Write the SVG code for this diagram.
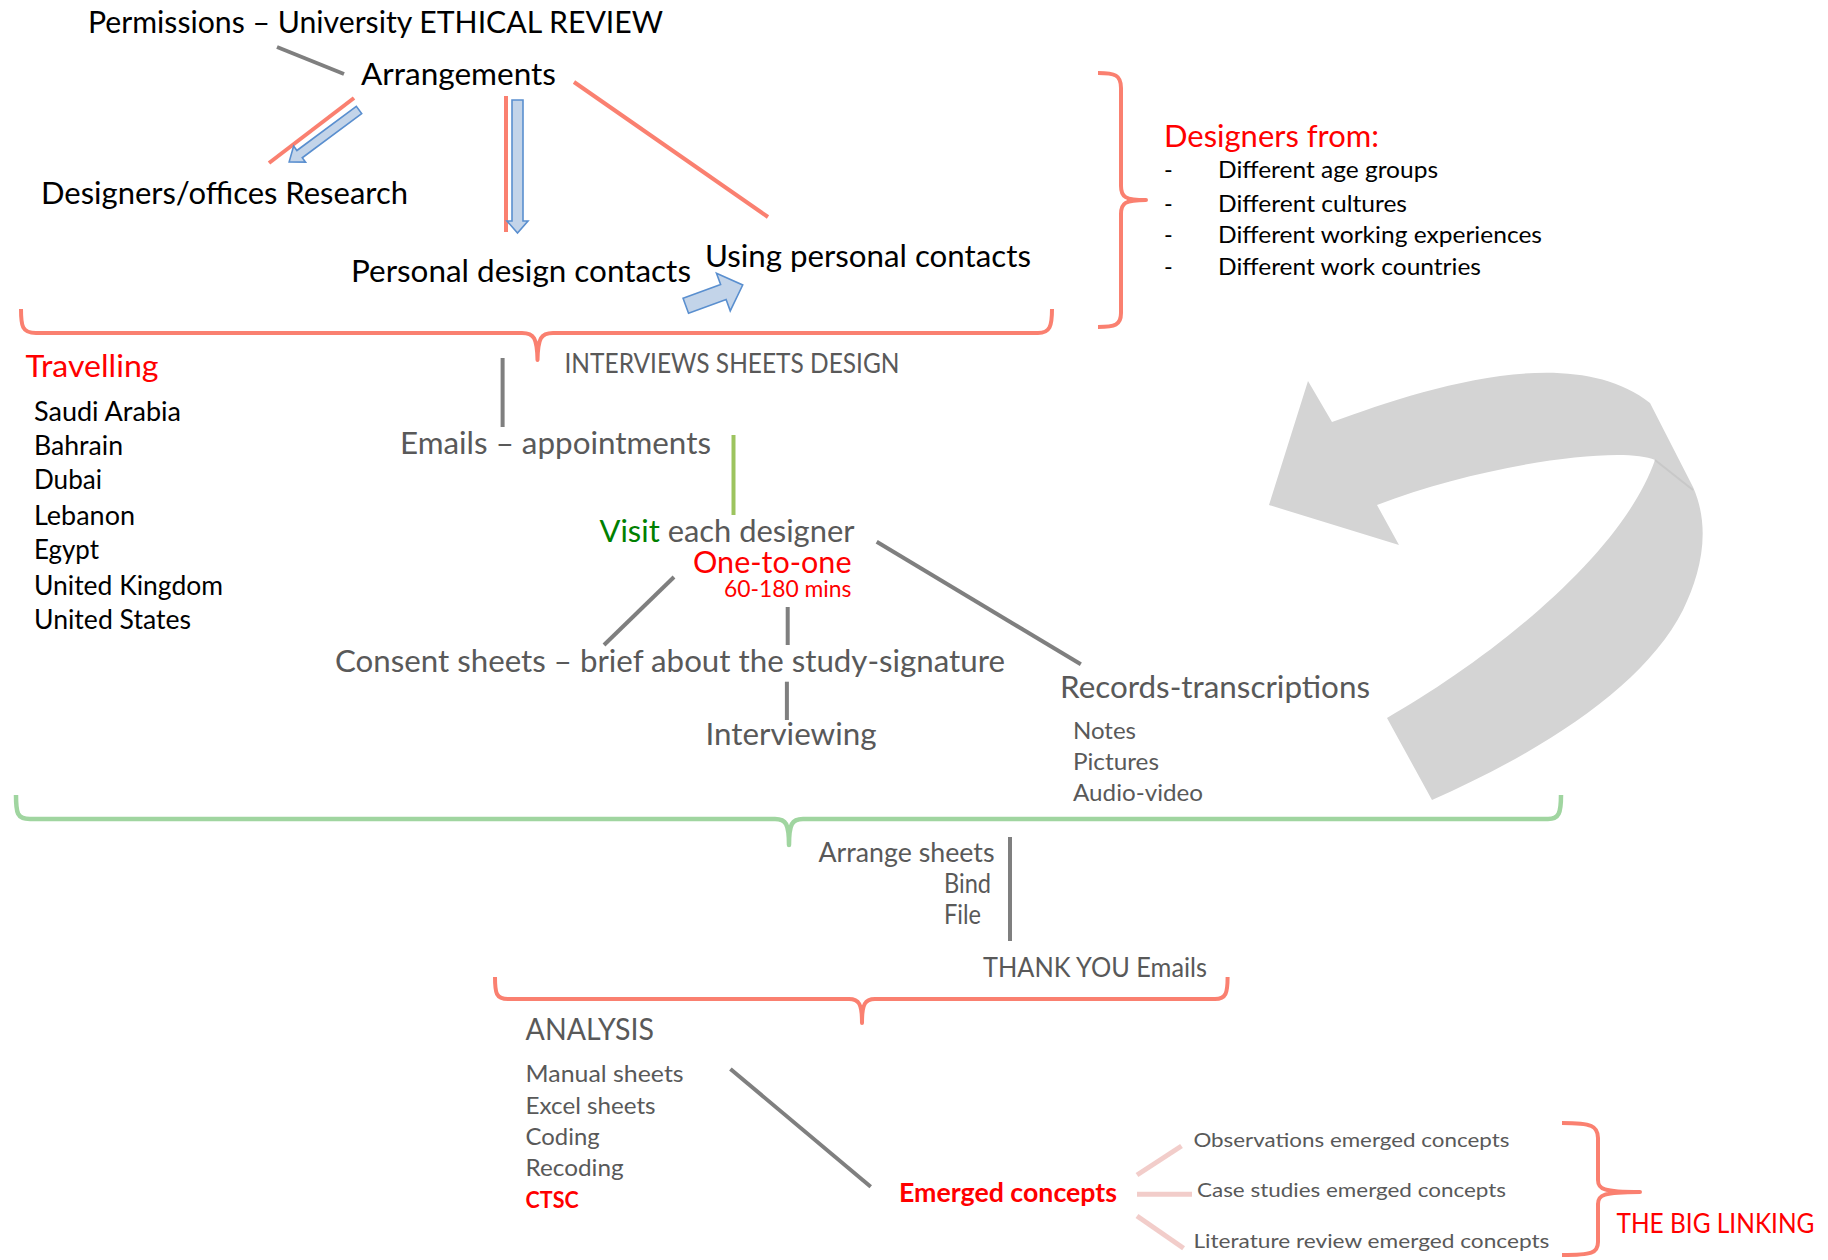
<svg xmlns="http://www.w3.org/2000/svg" width="1828" height="1260" viewBox="0 0 1828 1260">
<style>
text{font-family:Lato,"Liberation Sans",sans-serif}
.k{fill:#000}.g{fill:#595959}.r{fill:#ff0000}.v{fill:#008000}
.f30{font-size:30px}.f26{font-size:26px}.f23{font-size:23.5px}.f20{font-size:20px}.f22{font-size:22.5px}
.b{font-weight:bold}
.gl{stroke:#7f7f7f;stroke-width:4;fill:none}
.sl{stroke:#fa8070;stroke-width:4;fill:none}
.br{fill:none;stroke:#fa8070;stroke-width:4;stroke-linejoin:round}
.gb{fill:none;stroke:#a0d5a0;stroke-width:4.5;stroke-linejoin:round}
.grn{stroke:#9dc45f;stroke-width:4;fill:none}
.pk{stroke:#f2cdca;stroke-width:5;fill:none}
.ar{fill:#c3d4e9;stroke:#5a8fcf;stroke-width:1.6;stroke-linejoin:miter}
</style>
<rect width="1828" height="1260" fill="#fff"/>

<g id="loop-arrow">
<path d="M1269,505 L1308,381 L1332,422 C1420,390 1570,340 1650,403 L1693,487 C1712,530 1700,575 1683,610 C1645,685 1545,750 1432,800 L1387,718 C1480,665 1620,560 1655,460 C1620,445 1480,465 1377,505 L1399,545 Z" fill="#d4d4d4"/>
<path d="M1655,460 L1693,490" stroke="#c8c8c8" stroke-width="2" fill="none"/>
</g>

<g id="connectors">
<line class="gl" x1="277" y1="47" x2="344" y2="74"/>
<line class="sl" x1="354" y1="98" x2="269" y2="163"/>
<line class="sl" x1="506" y1="96" x2="506" y2="232"/>
<line class="sl" x1="574" y1="82" x2="768" y2="217"/>
<polygon class="ar" points="0,-4.5 74,-4.5 74,-10 87,0 74,10 74,4.5 0,4.5" transform="translate(359,110) rotate(143.4)"/>
<polygon class="ar" points="512,100 523,100 523,221 528,221 517.5,233 507,221 512,221"/>
<polygon class="ar" points="0,-8 40,-8 40,-20 60.6,0 40,20 40,8 0,8" transform="translate(685.8,305.8) rotate(-20.1)"/>
<path class="br" d="M21,309 C21,326 22,333 36,333 L522,333 C534,333 537,338 537.5,360 C538,338 541,333 553,333 L1038,333 C1050,333 1052,326 1052,309"/>
<path class="br" d="M1098,73 C1115,73 1121,75 1121,88 L1121,186 C1121,197 1125,200 1146,200 C1125,200 1121,203 1121,214 L1121,313 C1121,325 1115,327 1098,327"/>
<line class="gl" x1="502.6" y1="358" x2="502.6" y2="427"/>
<line class="grn" x1="733.5" y1="435" x2="733.5" y2="515"/>
<line class="gl" x1="674" y1="577" x2="604" y2="645"/>
<line class="gl" x1="787.7" y1="607" x2="787.7" y2="645"/>
<line class="gl" x1="876.7" y1="541.7" x2="1080.8" y2="664.3"/>
<line class="gl" x1="786.9" y1="681.7" x2="786.9" y2="720"/>
<path class="gb" d="M16,795 C16,813 17,819 30,819 L775,819 C786,819 789,824 789,845 C789,824 792,819 803,819 L1548,819 C1559,819 1561,813 1561,795"/>
<line class="gl" x1="1010" y1="837" x2="1010" y2="941"/>
<path class="br" d="M495,977 C495,993 496,999 508,999 L849,999 C859,999 862,1004 862,1023 C862,1004 865,999 875,999 L1215,999 C1226,999 1227.6,993 1227.6,977"/>
<line class="gl" x1="730.4" y1="1069" x2="870.7" y2="1186.7"/>
<line class="pk" x1="1137" y1="1175" x2="1181.5" y2="1146"/>
<line class="pk" x1="1137" y1="1194.3" x2="1192" y2="1194.3"/>
<line class="pk" x1="1137" y1="1216" x2="1183.6" y2="1248.3"/>
<path class="br" d="M1562,1123 C1592,1123 1598,1126 1598,1138 L1598,1180 C1598,1189 1603,1192 1640,1192 C1603,1192 1598,1195 1598,1204 L1598,1242 C1598,1253 1592,1255 1562,1255"/>
</g>

<g id="permissions"><text class="k f30" x="88" y="33" textLength="575" lengthAdjust="spacingAndGlyphs">Permissions – University ETHICAL REVIEW</text></g>
<g id="arrangements"><text class="k f30" x="361" y="85" textLength="195" lengthAdjust="spacingAndGlyphs">Arrangements</text></g>
<g id="designers-research"><text class="k f30" x="41" y="204" textLength="367" lengthAdjust="spacingAndGlyphs">Designers/offices Research</text></g>
<g id="personal-design-contacts"><text class="k f30" x="351" y="282" textLength="340" lengthAdjust="spacingAndGlyphs">Personal design contacts</text></g>
<g id="using-personal-contacts"><text class="k f30" x="705" y="267" textLength="326" lengthAdjust="spacingAndGlyphs">Using personal contacts</text></g>

<g id="designers-from">
<text class="r f30" x="1164" y="147" textLength="215" lengthAdjust="spacingAndGlyphs">Designers from:</text>
<text class="k f23" x="1164" y="178">-</text>
<text class="k f23" x="1218" y="178" textLength="220" lengthAdjust="spacingAndGlyphs">Different age groups</text>
<text class="k f23" x="1164" y="212">-</text>
<text class="k f23" x="1218" y="212" textLength="189" lengthAdjust="spacingAndGlyphs">Different cultures</text>
<text class="k f23" x="1164" y="243">-</text>
<text class="k f23" x="1218" y="243" textLength="324" lengthAdjust="spacingAndGlyphs">Different working experiences</text>
<text class="k f23" x="1164" y="275">-</text>
<text class="k f23" x="1218" y="275" textLength="263" lengthAdjust="spacingAndGlyphs">Different work countries</text>
</g>

<g id="travelling">
<text class="r f30" x="25.5" y="377" textLength="133" lengthAdjust="spacingAndGlyphs">Travelling</text>
<text class="k f26" x="34" y="421" textLength="147" lengthAdjust="spacingAndGlyphs">Saudi Arabia</text>
<text class="k f26" x="34" y="455" textLength="89" lengthAdjust="spacingAndGlyphs">Bahrain</text>
<text class="k f26" x="34" y="489" textLength="68" lengthAdjust="spacingAndGlyphs">Dubai</text>
<text class="k f26" x="34" y="525" textLength="101" lengthAdjust="spacingAndGlyphs">Lebanon</text>
<text class="k f26" x="34" y="559" textLength="65" lengthAdjust="spacingAndGlyphs">Egypt</text>
<text class="k f26" x="34" y="595" textLength="189" lengthAdjust="spacingAndGlyphs">United Kingdom</text>
<text class="k f26" x="34" y="629" textLength="157" lengthAdjust="spacingAndGlyphs">United States</text>
</g>

<g id="interviews-sheets"><text class="g f26" x="564.5" y="372.7" textLength="335" lengthAdjust="spacingAndGlyphs">INTERVIEWS SHEETS DESIGN</text></g>
<g id="emails"><text class="g f30" x="400" y="454" textLength="311" lengthAdjust="spacingAndGlyphs">Emails – appointments</text></g>

<g id="visit">
<text class="g f30" x="599.5" y="541.7" textLength="255" lengthAdjust="spacingAndGlyphs"><tspan class="v">Visit</tspan> each designer</text>
<text class="r f30" x="693" y="572.7" textLength="158.5" lengthAdjust="spacingAndGlyphs">One-to-one</text>
<text class="r f22" x="724" y="596.7" textLength="127.5" lengthAdjust="spacingAndGlyphs">60-180 mins</text>
</g>

<g id="consent"><text class="g f30" x="335" y="671.7" textLength="670" lengthAdjust="spacingAndGlyphs">Consent sheets – brief about the study-signature</text></g>
<g id="interviewing"><text class="g f30" x="705.5" y="745" textLength="171" lengthAdjust="spacingAndGlyphs">Interviewing</text></g>

<g id="records">
<text class="g f30" x="1060" y="698.3" textLength="310" lengthAdjust="spacingAndGlyphs">Records-transcriptions</text>
<text class="g f23" x="1073" y="738.5" textLength="63" lengthAdjust="spacingAndGlyphs">Notes</text>
<text class="g f23" x="1073" y="770" textLength="86" lengthAdjust="spacingAndGlyphs">Pictures</text>
<text class="g f23" x="1073" y="801" textLength="130" lengthAdjust="spacingAndGlyphs">Audio-video</text>
</g>

<g id="arrange">
<text class="g f26" x="818.5" y="861.7" textLength="176" lengthAdjust="spacingAndGlyphs">Arrange sheets</text>
<text class="g f26" x="944" y="893" textLength="47" lengthAdjust="spacingAndGlyphs">Bind</text>
<text class="g f26" x="944" y="924" textLength="37" lengthAdjust="spacingAndGlyphs">File</text>
</g>

<g id="thank-you"><text class="g f26" x="983" y="977" textLength="224" lengthAdjust="spacingAndGlyphs">THANK YOU Emails</text></g>

<g id="analysis">
<text class="g f30" x="525.6" y="1040" textLength="128.4" lengthAdjust="spacingAndGlyphs">ANALYSIS</text>
<text class="g f23" x="525.6" y="1082" textLength="158" lengthAdjust="spacingAndGlyphs">Manual sheets</text>
<text class="g f23" x="525.6" y="1113.5" textLength="130" lengthAdjust="spacingAndGlyphs">Excel sheets</text>
<text class="g f23" x="525.6" y="1145" textLength="74" lengthAdjust="spacingAndGlyphs">Coding</text>
<text class="g f23" x="525.6" y="1176" textLength="98" lengthAdjust="spacingAndGlyphs">Recoding</text>
<text class="r f23 b" x="525.6" y="1207.5" textLength="53" lengthAdjust="spacingAndGlyphs">CTSC</text>
</g>

<g id="emerged"><text class="r f26 b" x="899" y="1201.7" textLength="218" lengthAdjust="spacingAndGlyphs">Emerged concepts</text></g>

<g id="emerged-list">
<text class="g f20" x="1193.4" y="1146.7" textLength="316" lengthAdjust="spacingAndGlyphs">Observations emerged concepts</text>
<text class="g f20" x="1197" y="1196.7" textLength="309" lengthAdjust="spacingAndGlyphs">Case studies emerged concepts</text>
<text class="g f20" x="1193.4" y="1248.3" textLength="356" lengthAdjust="spacingAndGlyphs">Literature review emerged concepts</text>
</g>

<g id="big-linking"><text class="r f26" x="1616.5" y="1233.3" textLength="198" lengthAdjust="spacingAndGlyphs">THE BIG LINKING</text></g>
</svg>
